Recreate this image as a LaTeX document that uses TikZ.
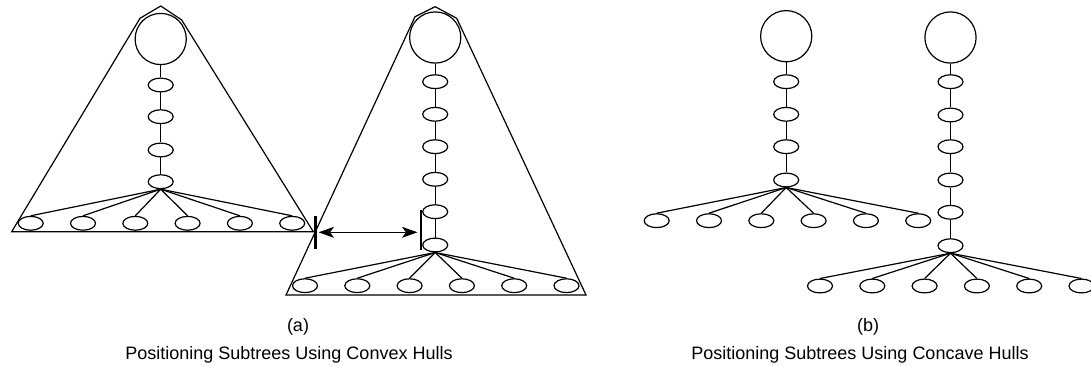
\documentclass[tikz,border=0pt]{standalone}
\usepackage{fontspec}
\setmainfont{Liberation Sans}
\usetikzlibrary{arrows.meta,shapes.geometric}
% #1 name, #2 centre x, #3 root y, #4 chain y list, #5 chain count, #6 leaf y, #7 first leaf x
\newcommand{\mytree}[7]{%
  \node[rootnode] (#1r) at (#2,#3) {};
  \foreach \yy [count=\i] in {#4} {\node[leaf] (#1c\i) at (#2,\yy) {};}
  \draw (#1r) -- (#1c1);
  \foreach \i [remember=\i as \j (initially 1)] in {2,...,#5} {\draw (#1c\j) -- (#1c\i);}
  \foreach \k in {0,...,5} {%
    \node[leaf] (#1l\k) at ({#7+52.3*\k},#6) {};
    \draw (#1c#5.south) -- (#1l\k.north);}
}
\begin{document}
\begin{tikzpicture}[x=1pt,y=-1pt,line width=1.2pt,
  leaf/.style={draw,ellipse,minimum width=25pt,minimum height=13.8pt,inner sep=0pt},
  rootnode/.style={draw,circle,minimum size=51.2pt,inner sep=0pt},
  hull/.style={draw,line width=1.2pt,line join=miter},
  sepbar/.style={line width=2.8pt},
  gap/.style={{Stealth[length=15.5pt,width=11pt,inset=4pt]}-{Stealth[length=15.5pt,width=11pt,inset=4pt]},line width=1.2pt},
  lbl/.style={font=\fontsize{18}{21}\selectfont,inner sep=0pt}]
\useasboundingbox (0,0) rectangle (1091,366);

% (a) convex hulls
\mytree{A}{160.7}{39}{85,116.7,150,181.7}{4}{223.3}{30.7}
\mytree{B}{435.2}{37.5}{81.7,114.3,146.7,179.3,211.7,245}{6}{285.7}{305}
\draw[hull] (11.7,231.7) -- (140,18.3) -- (160.7,6) -- (181.7,20) -- (313.3,231.7) -- cycle;
\draw[hull] (286,295) -- (415,16.7) -- (435.2,6.7) -- (456.7,18.3) -- (586,295) -- cycle;

\coordinate (s1t) at (315.5,215.7);
\coordinate (s1b) at (315.5,249);
\coordinate (s2t) at (421,210);
\coordinate (s2b) at (421,250);
\draw[sepbar] (s1t) -- (s1b);
\draw[sepbar] (s2t) -- (s2b);
\coordinate (g1) at (318.5,232.3);
\coordinate (g2) at (417.5,232.3);
\draw[gap] (g1) -- (g2);

\node[lbl] (la) at (298,327) {(a)};
\node[lbl] (ca) at (289,355) {Positioning Subtrees Using Convex Hulls};

% (b) concave hulls
\mytree{C}{786.2}{36.2}{81.7,114.3,146.7,180}{4}{220.7}{656.7}
\mytree{D}{950.5}{37.5}{81.7,115,146.7,180,212.3,245.7}{6}{286}{820}

\node[lbl] (lb) at (868,327) {(b)};
\node[lbl] (cb) at (860,355) {Positioning Subtrees Using Concave Hulls};
\end{tikzpicture}
\end{document}
